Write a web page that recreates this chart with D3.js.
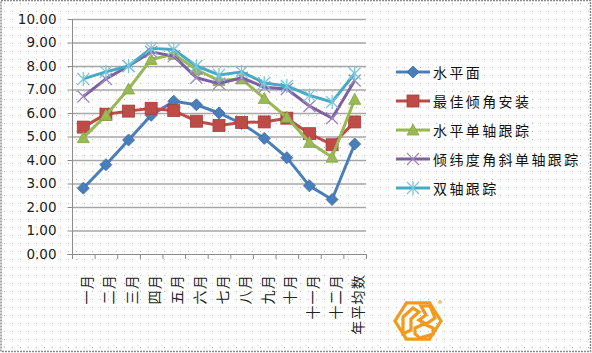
<!DOCTYPE html>
<html lang="zh">
<head>
<meta charset="UTF-8">
<title>chart</title>
<script src="https://cdn.jsdelivr.net/npm/d3@7"></script>
<style>
  html, body { margin: 0; padding: 0; background: #fff; }
  svg { display: block; }
</style>
</head>
<body>
<svg id="chart" width="592" height="353"></svg>
<script>
// chart data
const months = ["一月", "二月", "三月", "四月", "五月", "六月", "七月", "八月", "九月", "十月", "十一月", "十二月", "年平均数"];
const yTicks = [0, 1, 2, 3, 4, 5, 6, 7, 8, 9, 10];
const seriesNames = ["水平面", "最佳倾角安装", "水平单轴跟踪", "倾纬度角斜单轴跟踪", "双轴跟踪"];
const horizontal = [2.80, 3.80, 4.85, 5.90, 6.50, 6.35, 6.00, 5.55, 4.92, 4.10, 2.90, 2.32, 4.68];
const optimalTilt = [5.40, 5.95, 6.08, 6.20, 6.10, 5.65, 5.47, 5.60, 5.62, 5.78, 5.12, 4.65, 5.62];
const horizSingle = [4.95, 5.90, 7.02, 8.28, 8.50, 7.85, 7.38, 7.45, 6.62, 5.82, 4.75, 4.12, 6.58];
const tiltSingle = [6.70, 7.45, 8.00, 8.60, 8.42, 7.50, 7.25, 7.50, 7.10, 7.02, 6.30, 5.78, 7.38];
const dualAxis = [7.45, 7.75, 8.00, 8.75, 8.70, 8.00, 7.62, 7.75, 7.28, 7.15, 6.75, 6.47, 7.68];

const allSeries = [horizontal, optimalTilt, horizSingle, tiltSingle, dualAxis];
const colors = ["#4a7ebb", "#be4b48", "#98b954", "#7d60a0", "#46aac5"];
const markerFill = ["#4a7ebb", "#be4b48", "#98b954", "#9f86c0", "#79c7dc"];
const markers = ["diamond", "square", "triangle", "x", "star"];

const svg = d3.select("#chart");
const W = 592, H = 353;

// dotted background pattern
const defs = svg.append("defs");
const pat = defs.append("pattern")
  .attr("id", "dots").attr("width", 8).attr("height", 8)
  .attr("patternUnits", "userSpaceOnUse");
pat.append("rect").attr("x", 4).attr("y", 3).attr("width", 1).attr("height", 1).attr("fill", "#b8b8b8");

svg.append("rect").attr("width", W).attr("height", H).attr("fill", "#fff");
svg.append("rect").attr("width", W).attr("height", H).attr("fill", "url(#dots)");
svg.append("rect").attr("x", 1).attr("y", 0.5).attr("width", W - 2.5).attr("height", H - 2)
  .attr("fill", "none").attr("stroke", "#8a8a8a").attr("stroke-width", 1.5)
  .attr("stroke-dasharray", "2,1");

// plot area
const plot = { left: 72, right: 366, top: 19, bottom: 254 };
const x = d3.scaleBand().domain(months).range([plot.left, plot.right]);
const y = d3.scaleLinear().domain([0, 10]).range([plot.bottom, plot.top]);
const cx = d => x(d) + x.bandwidth() / 2;

// gridlines
svg.append("g").selectAll("line").data(yTicks.slice(1)).join("line")
  .attr("x1", plot.left).attr("x2", plot.right)
  .attr("y1", d => y(d) + 0.5).attr("y2", d => y(d) + 0.5)
  .attr("stroke", "#a6a6a6").attr("stroke-width", 1.3);

// y axis
const yAxis = svg.append("g").attr("transform", `translate(${plot.left + 0.5},0)`)
  .call(d3.axisLeft(y).tickValues(yTicks).tickFormat(d3.format(".2f")).tickSize(5).tickPadding(11));
yAxis.select(".domain").attr("stroke", "#8c8c8c").attr("d", `M-5,${plot.bottom + 0.5}H0V${plot.top}`);
yAxis.selectAll(".tick line").attr("stroke", "#8c8c8c");
yAxis.selectAll("text").attr("font-family", "DejaVu Sans, sans-serif").attr("font-size", 13.5).attr("fill", "#222");

// x axis
const xAxis = svg.append("g").attr("transform", `translate(0,${plot.bottom + 0.5})`)
  .call(d3.axisBottom(x).tickSize(0).tickFormat(""));
xAxis.select(".domain").attr("stroke", "#8c8c8c").attr("d", `M${plot.left},0H${plot.right}`);
svg.append("g").selectAll("line").data(months.concat([null])).join("line")
  .attr("x1", (d, i) => plot.left + i * x.bandwidth() + 0.5)
  .attr("x2", (d, i) => plot.left + i * x.bandwidth() + 0.5)
  .attr("y1", plot.bottom).attr("y2", plot.bottom + 5)
  .attr("stroke", "#8c8c8c");

// x labels, rotated
svg.append("g").selectAll("text").data(months).join("text")
  .attr("transform", d => `translate(${cx(d) + 2.5},274) rotate(-90)`)
  .attr("text-anchor", "end").attr("dominant-baseline", "central")
  .attr("font-family", "Noto Sans CJK SC, sans-serif").attr("font-size", 14)
  .attr("letter-spacing", 1.2).attr("fill", "#222")
  .text(d => d);

// marker drawing
function drawMarker(g, type, i, px, py) {
  if (type === "diamond") {
    g.append("path").attr("d", `M${px},${py - 6}L${px + 6},${py}L${px},${py + 6}L${px - 6},${py}Z`)
      .attr("fill", markerFill[i]).attr("stroke", "#3a6ba8").attr("stroke-width", 0.8);
  } else if (type === "square") {
    g.append("rect").attr("x", px - 6).attr("y", py - 6).attr("width", 12).attr("height", 12)
      .attr("fill", markerFill[i]).attr("stroke", "#a63d3a").attr("stroke-width", 0.8);
  } else if (type === "triangle") {
    g.append("path").attr("d", `M${px},${py - 6}L${px + 6},${py + 5}L${px - 6},${py + 5}Z`)
      .attr("fill", markerFill[i]).attr("stroke", "#85a845").attr("stroke-width", 0.8);
  } else if (type === "x") {
    g.append("path").attr("d", `M${px - 6},${py - 6}L${px + 6},${py + 6}M${px + 6},${py - 6}L${px - 6},${py + 6}`)
      .attr("stroke", markerFill[i]).attr("stroke-width", 1.3);
  } else {
    g.append("path").attr("d", `M${px - 6},${py - 6}L${px + 6},${py + 6}M${px + 6},${py - 6}L${px - 6},${py + 6}M${px},${py - 7}V${py + 7}`)
      .attr("stroke", markerFill[i]).attr("stroke-width", 1.3);
  }
}

// series lines and markers
const line = d3.line().x((d, j) => cx(months[j])).y(d => y(d));
allSeries.forEach((vals, i) => {
  const g = svg.append("g");
  g.append("path").datum(vals).attr("d", line)
    .attr("fill", "none").attr("stroke", colors[i]).attr("stroke-width", 3)
    .attr("stroke-linejoin", "round");
  vals.forEach((v, j) => drawMarker(g, markers[i], i, cx(months[j]), y(v)));
});

// legend
const legend = svg.append("g");
seriesNames.forEach((name, i) => {
  const ly = 72 + i * 29;
  const g = legend.append("g");
  g.append("line").attr("x1", 396).attr("x2", 430).attr("y1", ly).attr("y2", ly)
    .attr("stroke", colors[i]).attr("stroke-width", 3);
  drawMarker(g, markers[i], i, 413, ly);
  g.append("text").attr("x", 433).attr("y", ly).attr("dominant-baseline", "central")
    .attr("font-family", "Noto Sans CJK SC, sans-serif").attr("font-size", 14)
    .attr("letter-spacing", 2.4).attr("fill", "#111").text(name);
});

// logo (orange hexagon mark)
const logo = svg.append("g").attr("transform", "translate(418,321)")
  .attr("fill", "none").attr("stroke", "#f39a1e").attr("stroke-width", 3.2).attr("stroke-linejoin", "miter");
const hex = d3.range(6).map(k => [23 * Math.cos(Math.PI / 3 * k), 21 * Math.sin(Math.PI / 3 * k)]);
logo.append("path").attr("d", "M" + hex.map(p => p.join(",")).join("L") + "Z");
logo.append("path").attr("d", "M-15,-4L-5,-13L1,-9L-7,-2L-7,9L-15,13Z");
logo.append("path").attr("d", "M3,-15L12,-15L17,-3L8,3L1,-1L8,-6Z");
logo.append("path").attr("d", "M-3,7L6,3L15,7L15,13L2,17L-3,13Z");
svg.append("circle").attr("cx", 440).attr("cy", 302).attr("r", 2).attr("fill", "#f7c27e");
</script>
</body>
</html>
